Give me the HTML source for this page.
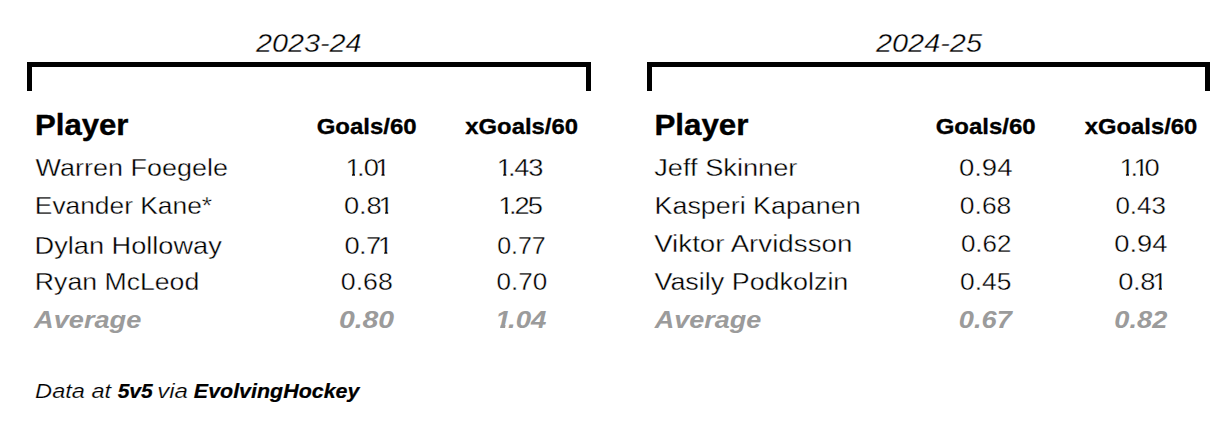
<!DOCTYPE html>
<html lang="en"><head><meta charset="utf-8"><title>Goals/60 vs xGoals/60</title>
<style>
html,body{margin:0;padding:0;background:#fff;}
body{width:1231px;height:427px;position:relative;overflow:hidden;font-family:"Liberation Sans",sans-serif;color:#000;}
.x{position:absolute;white-space:nowrap;transform-origin:0 0;}
.t{font-style:italic;-webkit-text-stroke:0.35px #fff;}
.n{-webkit-text-stroke:0.35px #fff;}
.ph{font-weight:bold;-webkit-text-stroke:0.35px #000;}
.ch{font-weight:bold;-webkit-text-stroke:0.3px #000;}
.a{font-weight:bold;font-style:italic;color:#9b9b9b;}
.f{font-style:italic;-webkit-text-stroke:0.2px #fff;}
.fb{font-style:italic;font-weight:bold;-webkit-text-stroke:0.2px #000;}
.o{display:inline-block;margin:0 -0.10em 0 -0.11em;clip-path:polygon(0 0,14px 0,14px 19.4px,8.7px 19.4px,8.7px 27px,5.95px 27px,5.95px 19.4px,0 19.4px);}
.a .o{clip-path:polygon(-2px 0,16px 0,16px 18.7px,9.1px 18.7px,8.4px 23px,4px 23px,4.7px 18.7px,-2px 18.7px);}
.br{position:absolute;top:62px;height:24px;border:5px solid #000;border-bottom:none;}
</style></head><body>
<div class="br" style="left:27px;width:554px"></div>
<div class="br" style="left:647px;width:553px"></div>
<section aria-label="2023-24">
<div class="x t" id="t1" style="left:255px;top:28px;font-size:26.6px;line-height:30px;transform:translateX(0.93px) scaleX(1.0828)">2023-24</div>
<div class="x ph" id="ph1" style="left:34px;top:109px;font-size:29.0px;line-height:32px;transform:translateX(0.98px) scaleX(1.0739)">Player</div>
<div class="x ch" id="g1" style="left:316px;top:115px;font-size:21.4px;line-height:24px;transform:translateX(0.66px) scaleX(1.1216)">Goals/60</div>
<div class="x ch" id="x1" style="left:465px;top:115px;font-size:21.4px;line-height:24px;transform:translateX(0.21px) scaleX(1.1165)">xGoals/60</div>
<div class="x n" id="n11" style="left:35px;top:154px;font-size:24.8px;line-height:27px;transform:translateX(0.46px) scaleX(1.0880)">Warren Foegele</div>
<div class="x n" id="a11" style="left:348px;top:154px;font-size:24.8px;line-height:27px;letter-spacing:-0.81px;transform:translateX(0.41px) scaleX(1.1000)"><span class="o">1</span>.0<span class="o">1</span></div>
<div class="x n" id="b11" style="left:499px;top:154px;font-size:24.8px;line-height:27px;letter-spacing:-1.11px;transform:translateX(0.72px) scaleX(1.1000)"><span class="o">1</span>.43</div>
<div class="x n" id="n12" style="left:34px;top:192px;font-size:24.8px;line-height:27px;transform:translateX(0.80px) scaleX(1.0627)">Evander Kane*</div>
<div class="x n" id="a12" style="left:343px;top:192px;font-size:24.8px;line-height:27px;letter-spacing:-0.07px;transform:translateX(0.88px) scaleX(1.1000)">0.8<span class="o">1</span></div>
<div class="x n" id="b12" style="left:501px;top:192px;font-size:24.8px;line-height:27px;letter-spacing:-1.74px;transform:translateX(0.36px) scaleX(1.1000)"><span class="o">1</span>.25</div>
<div class="x n" id="n13" style="left:34px;top:232px;font-size:24.8px;line-height:27px;transform:translateX(0.57px) scaleX(1.0954)">Dylan Holloway</div>
<div class="x n" id="a13" style="left:344px;top:232px;font-size:24.8px;line-height:27px;letter-spacing:-0.50px;transform:translateX(0.43px) scaleX(1.1000)">0.7<span class="o">1</span></div>
<div class="x n" id="b13" style="left:497px;top:232px;font-size:24.8px;line-height:27px;transform:translateX(0.14px) scaleX(1.0068)">0.77</div>
<div class="x n" id="n14" style="left:34px;top:268px;font-size:24.8px;line-height:27px;transform:translateX(0.86px) scaleX(1.0745)">Ryan McLeod</div>
<div class="x n" id="a14" style="left:340px;top:268px;font-size:24.8px;line-height:27px;transform:translateX(0.80px) scaleX(1.0775)">0.68</div>
<div class="x n" id="b14" style="left:496px;top:268px;font-size:24.8px;line-height:27px;transform:translateX(0.55px) scaleX(1.0487)">0.70</div>
<div class="x a" id="n15" style="left:34px;top:306px;font-size:24.5px;line-height:27px;transform:translateX(0.07px) scaleX(1.1091)">Average</div>
<div class="x a" id="a15" style="left:338px;top:306px;font-size:24.5px;line-height:27px;transform:translateX(0.88px) scaleX(1.1583)">0.80</div>
<div class="x a" id="b15" style="left:498px;top:306px;font-size:24.5px;line-height:27px;letter-spacing:-0.03px;transform:translateX(0.41px) scaleX(1.1300)"><span class="o">1</span>.04</div>
</section>
<section aria-label="2024-25">
<div class="x t" id="t2" style="left:875px;top:28px;font-size:26.6px;line-height:30px;transform:translateX(0.93px) scaleX(1.0869)">2024-25</div>
<div class="x ph" id="ph2" style="left:654px;top:109px;font-size:29.0px;line-height:32px;transform:translateX(0.42px) scaleX(1.0802)">Player</div>
<div class="x ch" id="g2" style="left:935px;top:115px;font-size:21.4px;line-height:24px;transform:translateX(0.66px) scaleX(1.1216)">Goals/60</div>
<div class="x ch" id="x2" style="left:1084px;top:115px;font-size:21.4px;line-height:24px;transform:translateX(0.72px) scaleX(1.1133)">xGoals/60</div>
<div class="x n" id="n21" style="left:654px;top:154px;font-size:24.8px;line-height:27px;transform:translateX(0.24px) scaleX(1.0970)">Jeff Skinner</div>
<div class="x n" id="a21" style="left:958px;top:154px;font-size:24.8px;line-height:27px;transform:translateX(0.90px) scaleX(1.1103)">0.94</div>
<div class="x n" id="b21" style="left:1122px;top:154px;font-size:24.8px;line-height:27px;letter-spacing:-1.34px;transform:translateX(0.41px) scaleX(1.1000)"><span class="o">1</span>.<span class="o">1</span>0</div>
<div class="x n" id="n22" style="left:654px;top:192px;font-size:24.8px;line-height:27px;transform:translateX(0.58px) scaleX(1.0827)">Kasperi Kapanen</div>
<div class="x n" id="a22" style="left:959px;top:192px;font-size:24.8px;line-height:27px;transform:translateX(0.85px) scaleX(1.0667)">0.68</div>
<div class="x n" id="b22" style="left:1115px;top:192px;font-size:24.8px;line-height:27px;transform:translateX(0.39px) scaleX(1.0470)">0.43</div>
<div class="x n" id="n23" style="left:654px;top:230px;font-size:24.8px;line-height:27px;transform:translateX(0.13px) scaleX(1.1176)">Viktor Arvidsson</div>
<div class="x n" id="a23" style="left:960px;top:230px;font-size:24.8px;line-height:27px;transform:translateX(0.90px) scaleX(1.0475)">0.62</div>
<div class="x n" id="b23" style="left:1114px;top:230px;font-size:24.8px;line-height:27px;transform:translateX(0.22px) scaleX(1.1003)">0.94</div>
<div class="x n" id="n24" style="left:654px;top:268px;font-size:24.8px;line-height:27px;transform:translateX(0.45px) scaleX(1.0849)">Vasily Podkolzin</div>
<div class="x n" id="a24" style="left:960px;top:268px;font-size:24.8px;line-height:27px;transform:translateX(0.09px) scaleX(1.0623)">0.45</div>
<div class="x n" id="b24" style="left:1118px;top:268px;font-size:24.8px;line-height:27px;letter-spacing:-0.23px;transform:translateX(0.13px) scaleX(1.1000)">0.8<span class="o">1</span></div>
<div class="x a" id="n25" style="left:654px;top:306px;font-size:24.5px;line-height:27px;transform:translateX(0.76px) scaleX(1.1028)">Average</div>
<div class="x a" id="a25" style="left:958px;top:306px;font-size:24.5px;line-height:27px;transform:translateX(0.82px) scaleX(1.1118)">0.67</div>
<div class="x a" id="b25" style="left:1114px;top:306px;font-size:24.5px;line-height:27px;transform:translateX(0.30px) scaleX(1.1108)">0.82</div>
</section>
<footer>
<div class="x f" id="f1" style="left:35px;top:380px;font-size:19.8px;line-height:22px;transform:translateX(0.11px) scaleX(1.1926)">Data at</div>
<div class="x fb" id="f2" style="left:117px;top:380px;font-size:19.6px;line-height:22px;transform:translateX(0.64px) scaleX(1.0756)">5v5</div>
<div class="x f" id="f3" style="left:157px;top:380px;font-size:19.8px;line-height:22px;transform:translateX(0.15px) scaleX(1.2177)">via</div>
<div class="x fb" id="f4" style="left:193px;top:380px;font-size:19.6px;line-height:22px;transform:translateX(0.86px) scaleX(1.0939)">EvolvingHockey</div>
</footer>
</body></html>
